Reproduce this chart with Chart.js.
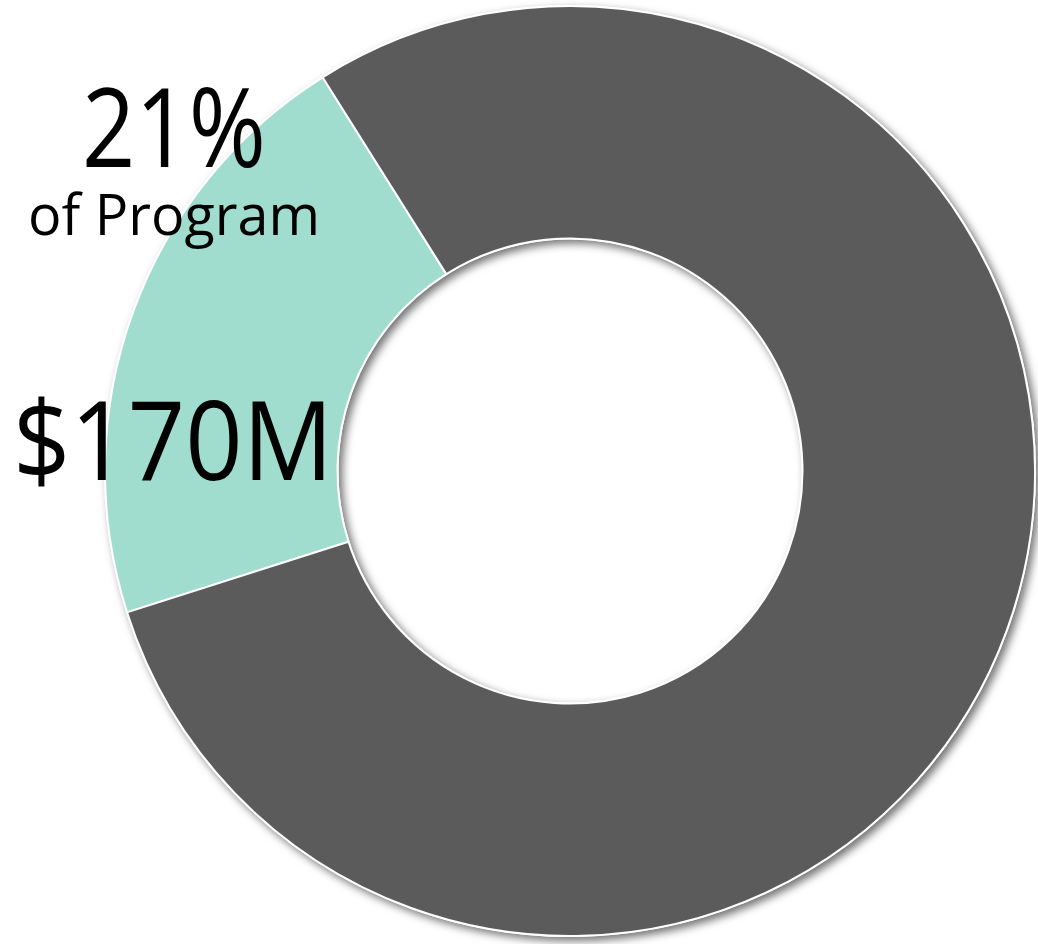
<!DOCTYPE html>
<html>
<head>
<meta charset="utf-8">
<script src="https://cdn.jsdelivr.net/npm/chart.js@4"></script>
<style>
  html, body { margin: 0; padding: 0; background: #ffffff; }
  #wrap { position: relative; width: 1038px; height: 944px; }
</style>
</head>
<body>
<div id="wrap"><canvas id="programChart" width="1038" height="944"></canvas></div>
<script>
// Dữ liệu biểu đồ
const labels = ['This share', 'Rest of program'];
const values = [170, 640]; // $M
const colors = ['#A0DDCE', '#5B5B5B'];
const bigLabel = '21%';
const subLabel = 'of Program';
const amountLabel = '$170M';

// Vẽ bóng đổ cho cả vòng tròn một lần, trước khi vẽ các lát
const ringShadow = {
    id: 'ringShadow',
    beforeDatasetsDraw(chart) {
        const arc = chart.getDatasetMeta(0).data[0];
        if (!arc) return;
        const ctx = chart.ctx;
        ctx.save();
        ctx.shadowColor = 'rgba(0,0,0,0.55)';
        ctx.shadowBlur = 8;
        ctx.shadowOffsetX = 4;
        ctx.shadowOffsetY = 4;
        ctx.fillStyle = '#ffffff';
        ctx.beginPath();
        ctx.arc(arc.x, arc.y, arc.outerRadius + 1, 0, Math.PI * 2);
        ctx.arc(arc.x, arc.y, arc.innerRadius - 1, 0, Math.PI * 2, true);
        ctx.fill();
        ctx.restore();
    }
};

// Chữ bên trái
const sideText = {
    id: 'sideText',
    afterDraw(chart) {
        const ctx = chart.ctx;
        ctx.save();
        ctx.fillStyle = '#000000';
        ctx.textAlign = 'center';
        ctx.textBaseline = 'alphabetic';
        ctx.font = '400 110px "Open Sans"';
        ctx.fillText(bigLabel, 174, 167, 184);
        ctx.font = '400 56px "Open Sans"';
        ctx.fillText(subLabel, 174, 235, 292);
        ctx.font = '400 110px "Open Sans"';
        ctx.fillText(amountLabel, 173, 480, 320);
        ctx.restore();
    }
};

function initializeChart() {
    let ctx = document.getElementById('programChart').getContext('2d');
    new Chart(ctx, {
        type: 'doughnut',
        data: {
            labels: labels,
            datasets: [{
                data: values,
                backgroundColor: colors,
                borderColor: '#ffffff',
                borderWidth: 2
            }]
        },
        options: {
            responsive: false,
            animation: false,
            cutout: '50%',
            rotation: 252.3,
            layout: { padding: { left: 104, right: 2, top: 5, bottom: 7 } },
            plugins: {
                legend: { display: false },
                tooltip: { enabled: false }
            }
        },
        plugins: [ringShadow, sideText]
    });
}

initializeChart();
</script>
</body>
</html>
